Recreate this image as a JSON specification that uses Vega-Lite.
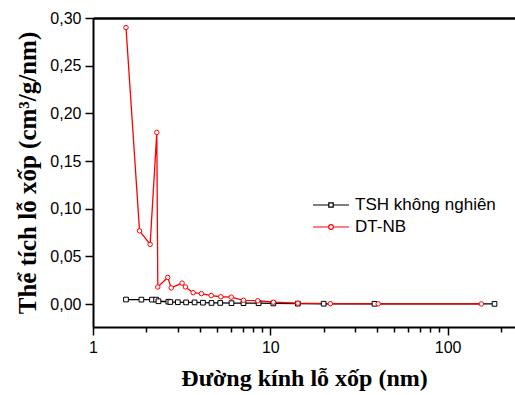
{
  "$schema": "https://vega.github.io/schema/vega-lite/v6.json",
  "width": 422,
  "height": 309,
  "autosize": {"type": "none"},
  "padding": {"left": 93, "top": 18, "right": 0, "bottom": 68},
  "background": "white",
  "config": {
    "view": {"stroke": null},
    "axis": {
      "domainColor": "black", "tickColor": "black", "labelColor": "black", "titleColor": "black",
      "labelFont": "Liberation Sans", "titleFont": "Liberation Serif", "titleFontWeight": "bold",
      "grid": false
    }
  },
  "data": {"values": [
    {"series": "TSH không nghiên", "d": 1.535, "v": 0.0048},
    {"series": "TSH không nghiên", "d": 1.875, "v": 0.0047},
    {"series": "TSH không nghiên", "d": 2.15, "v": 0.0047},
    {"series": "TSH không nghiên", "d": 2.27, "v": 0.0047},
    {"series": "TSH không nghiên", "d": 2.34, "v": 0.003},
    {"series": "TSH không nghiên", "d": 2.66, "v": 0.0025},
    {"series": "TSH không nghiên", "d": 2.73, "v": 0.0022},
    {"series": "TSH không nghiên", "d": 3.01, "v": 0.002},
    {"series": "TSH không nghiên", "d": 3.35, "v": 0.0018},
    {"series": "TSH không nghiên", "d": 3.74, "v": 0.0018},
    {"series": "TSH không nghiên", "d": 4.17, "v": 0.0015},
    {"series": "TSH không nghiên", "d": 4.66, "v": 0.0012},
    {"series": "TSH không nghiên", "d": 5.22, "v": 0.0012},
    {"series": "TSH không nghiên", "d": 6.04, "v": 0.001},
    {"series": "TSH không nghiên", "d": 7.06, "v": 0.001},
    {"series": "TSH không nghiên", "d": 8.59, "v": 0.001},
    {"series": "TSH không nghiên", "d": 10.4, "v": 0.0007},
    {"series": "TSH không nghiên", "d": 14.3, "v": 0.0005},
    {"series": "TSH không nghiên", "d": 20, "v": 0.0004},
    {"series": "TSH không nghiên", "d": 38.7, "v": 0.0003},
    {"series": "TSH không nghiên", "d": 184, "v": 0.0002},
    {"series": "DT-NB", "d": 1.535, "v": 0.290},
    {"series": "DT-NB", "d": 1.83, "v": 0.0768},
    {"series": "DT-NB", "d": 2.10, "v": 0.0626},
    {"series": "DT-NB", "d": 2.29, "v": 0.180},
    {"series": "DT-NB", "d": 2.32, "v": 0.018},
    {"series": "DT-NB", "d": 2.64, "v": 0.028},
    {"series": "DT-NB", "d": 2.76, "v": 0.017},
    {"series": "DT-NB", "d": 3.18, "v": 0.022},
    {"series": "DT-NB", "d": 3.32, "v": 0.018},
    {"series": "DT-NB", "d": 3.67, "v": 0.012},
    {"series": "DT-NB", "d": 4.09, "v": 0.011},
    {"series": "DT-NB", "d": 4.64, "v": 0.009},
    {"series": "DT-NB", "d": 5.26, "v": 0.0077},
    {"series": "DT-NB", "d": 6.02, "v": 0.0073},
    {"series": "DT-NB", "d": 7.06, "v": 0.004},
    {"series": "DT-NB", "d": 8.5, "v": 0.0035},
    {"series": "DT-NB", "d": 10.4, "v": 0.002},
    {"series": "DT-NB", "d": 14.3, "v": 0.001},
    {"series": "DT-NB", "d": 21.8, "v": 0.0005},
    {"series": "DT-NB", "d": 40.6, "v": 0.0003},
    {"series": "DT-NB", "d": 155, "v": 0.0002}
  ]},
  "resolve": {"axis": {"x": "independent"}},
  "layer": [
    {
      "mark": {"type": "line", "strokeWidth": 1.3},
      "encoding": {
        "x": {
          "field": "d", "type": "quantitative",
          "scale": {"type": "log", "domain": [1, 240], "nice": false},
          "axis": {
            "orient": "bottom",
            "values": [1,2,3,4,5,6,7,8,9,10,20,30,40,50,60,70,80,90,100,200],
            "format": "d",
            "labelExpr": "datum.value==1||datum.value==10||datum.value==100 ? datum.label : ''",
            "tickSize": {"condition": {"test": "datum.value==1||datum.value==10||datum.value==100", "value": 8}, "value": 5},
            "tickWidth": 1.5,
            "domainWidth": 2,
            "labelFontSize": 16,
            "labelPadding": 4,
            "labelOverlap": false,
            "labelFlush": false,
            "title": "Đường kính lỗ xốp (nm)",
            "titleFontSize": 24,
            "titlePadding": 11
          }
        },
        "y": {
          "field": "v", "type": "quantitative",
          "scale": {"domain": [-0.024, 0.30], "nice": false, "zero": false},
          "axis": {
            "values": [0,0.025,0.05,0.075,0.1,0.125,0.15,0.175,0.2,0.225,0.25,0.275,0.3],
            "labelExpr": "abs(datum.value*20-round(datum.value*20))<0.001 ? replace(format(datum.value,'.2f'),'.',',') : ''",
            "tickSize": {"condition": {"test": "abs(datum.value*20-round(datum.value*20))<0.001", "value": 8}, "value": 5},
            "tickWidth": 1.5,
            "domainWidth": 2,
            "labelFontSize": 16,
            "labelPadding": 4,
            "labelOverlap": false,
            "labelFlush": false,
            "title": "Thể tích lỗ xốp (cm³/g/nm)",
            "titleFontSize": 25,
            "titlePadding": 9
          }
        },
        "color": {
          "field": "series", "type": "nominal",
          "scale": {"domain": ["TSH không nghiên", "DT-NB"], "range": ["black", "#ff0000"]},
          "legend": {
            "title": null, "orient": "none", "legendX": 227, "legendY": 176,
            "labelFont": "Liberation Sans", "labelFontSize": 17, "labelColor": "black",
            "symbolType": "M-1.8,0H1.8", "symbolSize": 400, "symbolStrokeWidth": 1.2,
            "symbolFillColor": "white", "rowPadding": 3, "labelOffset": 13,
            "encode": {"symbols": {"update": {"shape": {"signal": "datum.value === 'DT-NB' ? 'M-1.8,0H-0.23M0.23,0H1.8M0.23,0A0.23,0.23 0 1,1 -0.23,0A0.23,0.23 0 1,1 0.23,0' : 'M-1.8,0H-0.22M0.22,0H1.8M-0.22,-0.22H0.22V0.22H-0.22Z'"}}}}
          }
        },
        "order": {"field": "d", "type": "quantitative"}
      }
    },
    {
      "transform": [{"filter": "datum.series === 'TSH không nghiên'"}],
      "mark": {"type": "point", "shape": "square", "filled": false, "fill": "white", "fillOpacity": 1, "opacity": 1, "strokeWidth": 1, "size": 22, "stroke": "black"},
      "encoding": {
        "x": {
          "field": "d", "type": "quantitative",
          "axis": {"orient": "top", "ticks": false, "labels": false, "title": null, "domainWidth": 2.5}
        },
        "y": {"field": "v", "type": "quantitative"}
      }
    },
    {
      "transform": [{"filter": "datum.series === 'DT-NB'"}],
      "mark": {"type": "point", "shape": "circle", "filled": false, "fill": "white", "fillOpacity": 1, "opacity": 1, "strokeWidth": 1, "size": 20, "stroke": "#ff0000"},
      "encoding": {
        "x": {"field": "d", "type": "quantitative", "axis": null},
        "y": {"field": "v", "type": "quantitative"}
      }
    }
  ]
}
